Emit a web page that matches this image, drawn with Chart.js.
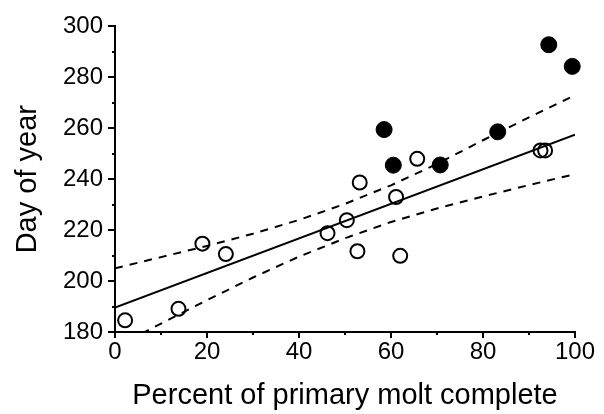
<!DOCTYPE html>
<html>
<head>
<meta charset="utf-8">
<title>Molt timing</title>
<script src="https://cdn.jsdelivr.net/npm/chart.js@4.4.1/dist/chart.umd.min.js"></script>
<style>
  html, body { margin: 0; padding: 0; background: #fff; }
  #wrap { width: 604px; height: 414px; }
</style>
</head>
<body>
<div id="wrap"><canvas id="chart" width="604" height="414"></canvas></div>
<script>
// values
const openX   = [2.2, 13.8, 19.0, 24.1, 46.2, 50.4, 52.7, 53.2, 61.1, 62.0, 65.7, 92.5, 93.5];
const openY   = [184.6, 189.1, 214.7, 210.6, 218.8, 223.9, 211.7, 238.7, 233.0, 209.9, 248.0, 251.3, 251.3];
const filledX = [58.5, 60.5, 70.7, 83.2, 94.3, 99.4];
const filledY = [259.5, 245.5, 245.6, 258.6, 292.8, 284.3];

const fitX = [0, 100];
const fitY = [189.6, 257.5];

const bandX  = [0, 10, 20, 30, 40, 50, 60, 70, 80, 90, 100];
const upperY = [205.0, 209.4, 213.8, 218.6, 224.0, 230.3, 237.6, 246.0, 255.3, 264.3, 273.0];
const lowerY = [174.0, 183.3, 192.5, 201.4, 209.6, 216.8, 223.2, 228.5, 233.2, 237.7, 242.0];

const xTicks = [0, 20, 40, 60, 80, 100];
const yTicks = [180, 200, 220, 240, 260, 280, 300];

const FONT = '"Liberation Sans", Arial, Helvetica, sans-serif';

function pts(xs, ys){ return xs.map((x, i) => ({x: x, y: ys[i]})); }

// outward tick marks, long on labelled values, short in between
const axisTicks = {
  id: 'axisTicks',
  afterDraw(chart){
    const {ctx, chartArea: a, scales: {x, y}} = chart;
    ctx.save();
    ctx.strokeStyle = '#000';
    ctx.lineWidth = 2;
    ctx.beginPath();
    x.ticks.forEach(t => {
      const px = Math.round(x.getPixelForValue(t.value));
      const len = xTicks.includes(t.value) ? 6 : 3;
      ctx.moveTo(px, a.bottom); ctx.lineTo(px, a.bottom + len);
    });
    y.ticks.forEach(t => {
      const py = Math.round(y.getPixelForValue(t.value));
      const len = yTicks.includes(t.value) ? 7 : 3;
      ctx.moveTo(a.left, py); ctx.lineTo(a.left - len, py);
    });
    ctx.stroke();
    ctx.restore();
  }
};

new Chart(document.getElementById('chart'), {
  type: 'scatter',
  data: {
    datasets: [
      {
        label: 'fit',
        data: pts(fitX, fitY),
        showLine: true,
        borderColor: '#000',
        borderWidth: 2,
        pointRadius: 0
      },
      {
        label: 'upper',
        data: pts(bandX, upperY),
        showLine: true,
        borderColor: '#000',
        borderWidth: 2,
        borderDash: [8, 7],
        pointRadius: 0
      },
      {
        label: 'lower',
        data: pts(bandX, lowerY),
        showLine: true,
        borderColor: '#000',
        borderWidth: 2,
        borderDash: [8, 7],
        pointRadius: 0
      },
      {
        label: 'open',
        data: pts(openX, openY),
        pointRadius: 7,
        pointBorderWidth: 2,
        borderColor: '#000',
        backgroundColor: 'rgba(0,0,0,0)',
        clip: false
      },
      {
        label: 'filled',
        data: pts(filledX, filledY),
        pointRadius: 8,
        pointBorderWidth: 1,
        borderColor: '#000',
        backgroundColor: '#000',
        clip: false
      }
    ]
  },
  options: {
    responsive: false,
    animation: false,
    layout: { padding: { left: 0, right: 29, top: 16, bottom: 0 } },
    plugins: {
      legend: { display: false },
      tooltip: { enabled: false }
    },
    scales: {
      x: {
        type: 'linear',
        min: 0, max: 100,
        grid: { display: false, drawTicks: false },
        border: { display: true, color: '#000', width: 2 },
        ticks: {
          stepSize: 10,
          padding: 6,
          color: '#000',
          font: { family: FONT, size: 24 },
          maxRotation: 0,
          autoSkip: false,
          callback: v => xTicks.includes(v) ? String(v) : ''
        },
        title: {
          display: true,
          text: 'Percent of primary molt complete',
          color: '#000',
          font: { family: FONT, size: 29 },
          padding: { top: 0, bottom: 1 }
        },
        afterFit: s => { s.height = 82; }
      },
      y: {
        type: 'linear',
        min: 180, max: 300,
        grid: { display: false, drawTicks: false },
        border: { display: true, color: '#000', width: 2 },
        ticks: {
          stepSize: 10,
          padding: 12,
          color: '#000',
          font: { family: FONT, size: 24 },
          autoSkip: false,
          callback: v => yTicks.includes(v) ? String(v) : ''
        },
        title: {
          display: true,
          text: 'Day of year',
          color: '#000',
          font: { family: FONT, size: 29 },
          padding: { top: 11, bottom: 0 }
        },
        afterFit: s => { s.width = 115; }
      }
    }
  },
  plugins: [axisTicks]
});
</script>
</body>
</html>
